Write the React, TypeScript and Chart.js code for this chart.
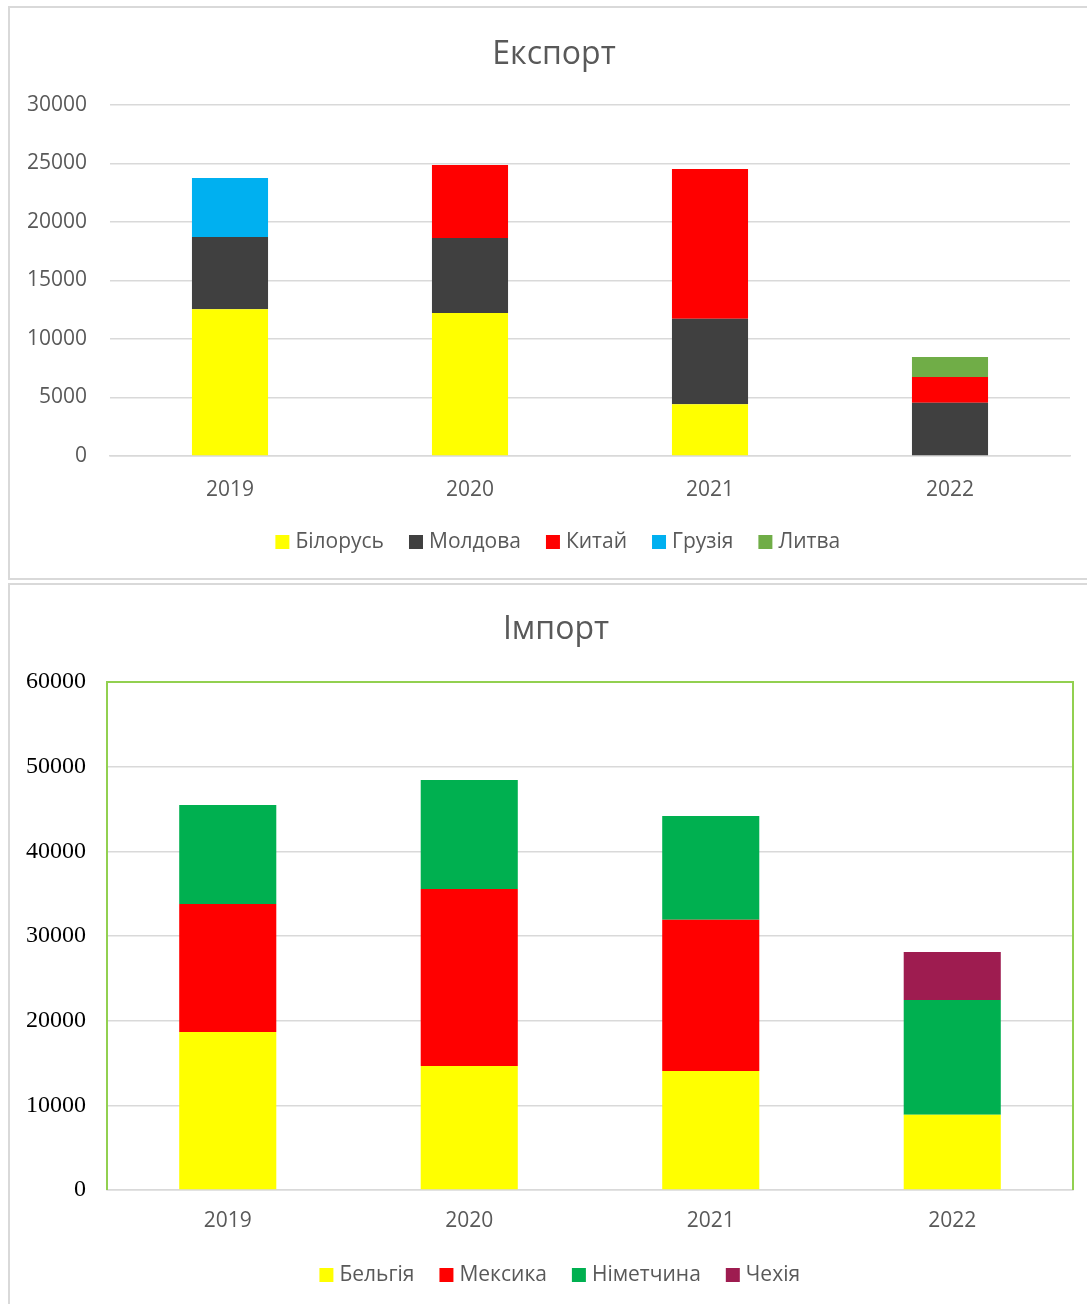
import React, { useEffect, useRef } from "react";
import { Chart, registerables } from "chart.js";

Chart.register(...registerables);

// ---------- data ----------
const years = ["2019", "2020", "2021", "2022"];

const exportTitle = "Експорт";
const exportBelarus = [12540, 12220, 4420, 0];
const exportMoldova = [6180, 6410, 7320, 4560];
const exportChina = [0, 6240, 12790, 2190];
const exportGeorgia = [5040, 0, 0, 0];
const exportLithuania = [0, 0, 0, 1710];
const exportTicks = [0, 5000, 10000, 15000, 20000, 25000, 30000];

const importTitle = "Імпорт";
const importBelgium = [18660, 14650, 14060, 8890];
const importMexico = [15120, 20900, 17870, 0];
const importGermany = [11690, 12870, 12250, 13550];
const importCzechia = [0, 0, 0, 5670];
const importTicks = [0, 10000, 20000, 30000, 40000, 50000, 60000];

const SANS = "'Open Sans', 'Noto Sans', sans-serif";
const SERIF = "'Liberation Serif', 'DejaVu Serif', serif";
const GREY_TEXT = "#595959";
const GRID = "#d9d9d9";

type Geo = {
  width: number;
  height: number;
  yWidth: number;
  yPad: number;
  rightWidth: number;
  xHeight: number;
  xPad: number;
  titleTop: number;
  titleBottom: number;
  padBottom: number;
  catPct: number;
  legendShift: number;
};

function buildConfig(
  title: string,
  datasets: { label: string; data: number[]; color: string }[],
  ticks: number[],
  geo: Geo,
  yFont: any,
  yColor: string,
  plotBorder: boolean
): any {
  const plugins: any[] = [
    {
      id: "legendShift",
      afterLayout(chart: any) {
        const lg = chart.legend;
        if (lg) {
          lg.left += geo.legendShift;
          lg.right += geo.legendShift;
        }
      },
    },
  ];
  if (plotBorder) {
    plugins.push({
      id: "plotBorder",
      afterDraw(chart: any) {
        const { ctx, chartArea } = chart;
        const { left, right, top, bottom } = chartArea;
        ctx.save();
        ctx.strokeStyle = "#92d050";
        ctx.lineWidth = 2;
        ctx.beginPath();
        ctx.moveTo(left, bottom);
        ctx.lineTo(left, top);
        ctx.lineTo(right, top);
        ctx.lineTo(right, bottom);
        ctx.stroke();
        ctx.restore();
      },
    });
  }
  return {
    type: "bar",
    data: {
      labels: years,
      datasets: datasets.map((d) => ({
        label: d.label,
        data: d.data,
        backgroundColor: d.color,
        borderWidth: 0,
        barPercentage: 1,
        categoryPercentage: geo.catPct,
        yAxisID: "y",
      })),
    },
    plugins,
    options: {
      responsive: false,
      animation: false,
      devicePixelRatio: 1,
      layout: { padding: { left: 0, top: 0, right: 0, bottom: geo.padBottom } },
      plugins: {
        title: {
          display: true,
          text: title,
          color: GREY_TEXT,
          font: { family: SANS, size: 32, weight: "normal" },
          padding: { top: geo.titleTop, bottom: geo.titleBottom },
        },
        legend: {
          display: true,
          position: "bottom",
          labels: {
            color: GREY_TEXT,
            font: { family: SANS, size: 21 },
            usePointStyle: true,
            pointStyle: "rect",
            boxWidth: 5,
            boxHeight: 14,
            padding: 29.5,
          },
        },
        tooltip: { enabled: false },
      },
      scales: {
        x: {
          stacked: true,
          grid: { display: false, drawTicks: false },
          border: { display: true, color: GRID, width: 1.5 },
          ticks: { color: GREY_TEXT, font: { family: SANS, size: 21 }, padding: geo.xPad },
          afterFit(scale: any) {
            scale.height = geo.xHeight;
          },
        },
        y: {
          stacked: true,
          position: "left",
          min: ticks[0],
          max: ticks[ticks.length - 1],
          afterBuildTicks(scale: any) {
            scale.ticks = ticks.map((v) => ({ value: v }));
          },
          grid: { color: GRID, lineWidth: 1.5, drawTicks: false },
          border: { display: false },
          ticks: {
            color: yColor,
            font: yFont,
            padding: geo.yPad,
            callback: (v: any) => String(v),
          },
          afterFit(scale: any) {
            scale.width = geo.yWidth;
          },
        },
        yRight: {
          position: "right",
          display: true,
          min: ticks[0],
          max: ticks[ticks.length - 1],
          grid: { display: false, drawTicks: false },
          border: { display: false },
          ticks: { display: false },
          afterFit(scale: any) {
            scale.width = geo.rightWidth;
          },
        },
      },
    },
  };
}

function ChartCanvas({ config, width, height }: { config: any; width: number; height: number }) {
  const ref = useRef<HTMLCanvasElement | null>(null);
  useEffect(() => {
    if (!ref.current) return;
    const chart = new Chart(ref.current, config);
    return () => chart.destroy();
  }, [config]);
  return <canvas ref={ref} width={width} height={height} style={{ display: "block", width, height }} />;
}

const topGeo: Geo = {
  width: 1088,
  height: 570,
  yWidth: 100,
  yPad: 23,
  rightWidth: 28,
  xHeight: 46,
  xPad: 21,
  titleTop: 27.3,
  titleBottom: 31.3,
  padBottom: 15.5,
  catPct: 0.317,
  legendShift: 6,
};

const bottomGeo: Geo = {
  width: 1092,
  height: 719,
  yWidth: 97,
  yPad: 21,
  rightWidth: 29,
  xHeight: 45,
  xPad: 18.5,
  titleTop: 25.3,
  titleBottom: 33.3,
  padBottom: 8.5,
  catPct: 0.402,
  legendShift: 6,
};

const exportConfig = buildConfig(
  exportTitle,
  [
    { label: "Білорусь", data: exportBelarus, color: "#ffff00" },
    { label: "Молдова", data: exportMoldova, color: "#404040" },
    { label: "Китай", data: exportChina, color: "#ff0000" },
    { label: "Грузія", data: exportGeorgia, color: "#00b0f0" },
    { label: "Литва", data: exportLithuania, color: "#70ad47" },
  ],
  exportTicks,
  topGeo,
  { family: SANS, size: 21 },
  GREY_TEXT,
  false
);

const importConfig = buildConfig(
  importTitle,
  [
    { label: "Бельгія", data: importBelgium, color: "#ffff00" },
    { label: "Мексика", data: importMexico, color: "#ff0000" },
    { label: "Німетчина", data: importGermany, color: "#00b050" },
    { label: "Чехія", data: importCzechia, color: "#9e1c50" },
  ],
  importTicks,
  bottomGeo,
  { family: SERIF, size: 24 },
  "#000000",
  true
);

export default function App() {
  return (
    <div
      style={{
        position: "absolute",
        left: 0,
        top: 0,
        width: 1087,
        height: 1304,
        overflow: "hidden",
        background: "#ffffff",
      }}
    >
      <div
        style={{
          position: "absolute",
          left: 8,
          top: 6,
          width: 1110,
          height: 574,
          border: "2px solid #d9d9d9",
          boxSizing: "border-box",
          overflow: "hidden",
        }}
      >
        <ChartCanvas config={exportConfig} width={topGeo.width} height={topGeo.height} />
      </div>
      <div
        style={{
          position: "absolute",
          left: 8,
          top: 583,
          width: 1110,
          height: 800,
          border: "2px solid #d9d9d9",
          boxSizing: "border-box",
          overflow: "hidden",
        }}
      >
        <ChartCanvas config={importConfig} width={bottomGeo.width} height={bottomGeo.height} />
      </div>
    </div>
  );
}
